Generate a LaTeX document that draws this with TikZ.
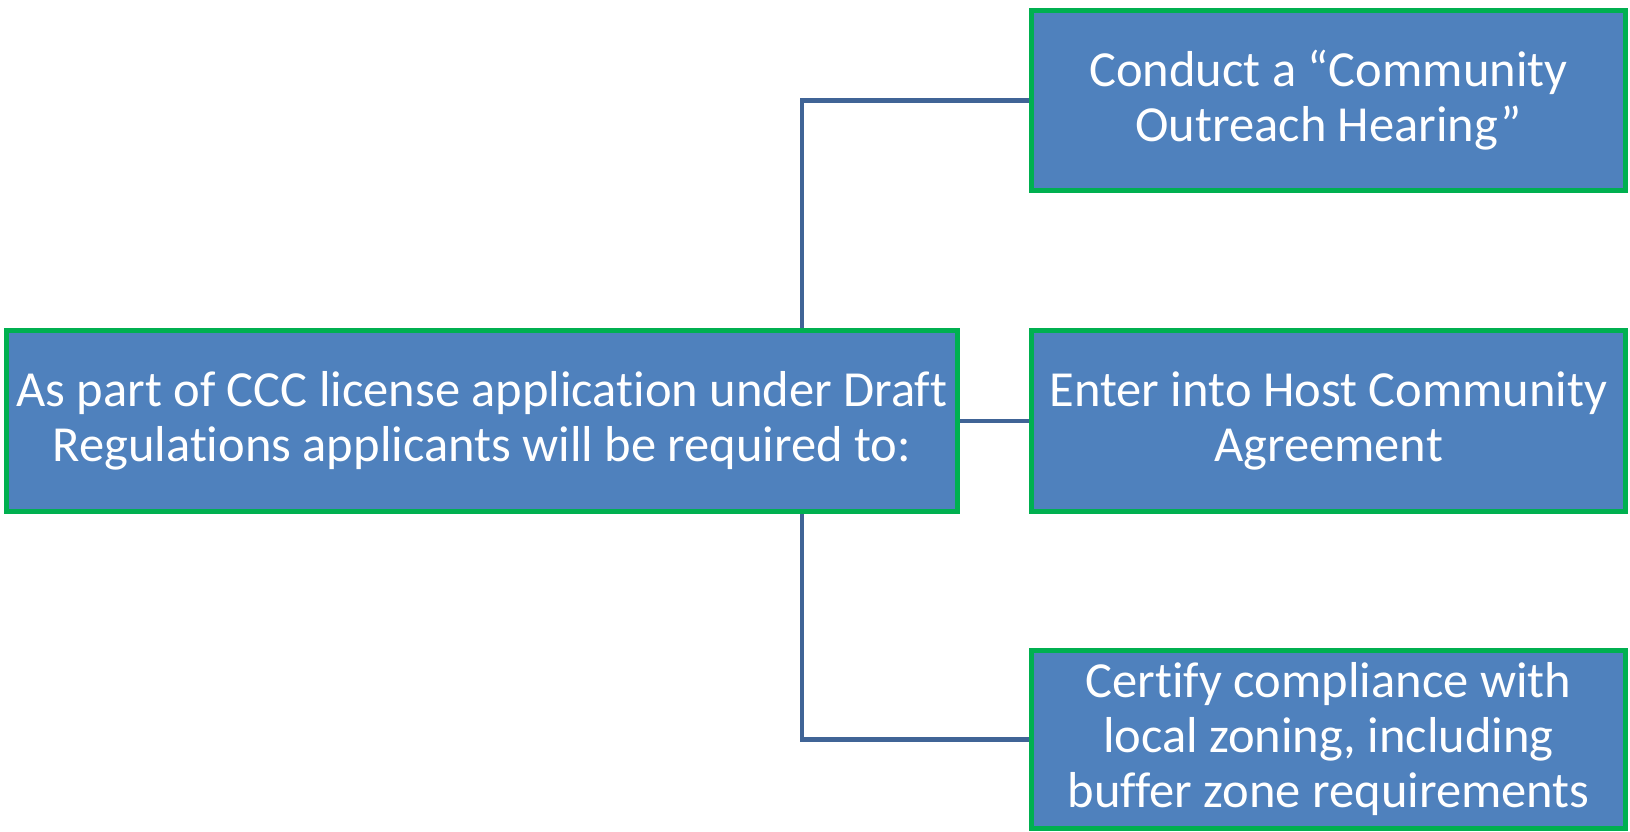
\documentclass[tikz,border=0pt]{standalone}
\usepackage{fontspec}
\setmainfont{Carlito}[Ligatures=NoCommon]
\usetikzlibrary{backgrounds}
\definecolor{boxblue}{RGB}{79,129,189}
\definecolor{boxgreen}{RGB}{0,176,80}
\definecolor{connblue}{RGB}{64,100,150}
\begin{document}
\begin{tikzpicture}[x=1pt,y=-1pt,
  box/.style={draw=boxgreen, line width=5pt, fill=boxblue, text=white, align=center,
    font=\fontsize{50.5}{55}\selectfont, inner sep=0pt},
  conn/.style={draw=connblue, line width=4.5pt}]
\useasboundingbox (0,0) rectangle (1630,832);
\node[box, minimum width=951pt, minimum height=181pt] (main) at (482,421)
  {As part of CCC license application under Draft\\Regulations applicants will be required to:};
\node[box, minimum width=594pt, minimum height=180pt] (top) at (1328.5,100.5)
  {Conduct a “Community\\Outreach Hearing”};
\node[box, minimum width=594pt, minimum height=181pt] (mid) at (1328.5,421)
  {Enter into Host Community\\Agreement};
\node[box, minimum width=594pt, minimum height=178pt] (bot) at (1328.5,739.5)
  {Certify compliance with\\local zoning, including\\buffer zone requirements};
\coordinate (vx) at (802,421);
\begin{pgfonlayer}{background}
\draw[conn] (main.north -| vx) |- (top.west);
\draw[conn] (main.east) -- (mid.west);
\draw[conn] (main.south -| vx) |- (bot.west);
\end{pgfonlayer}
\end{tikzpicture}
\end{document}
